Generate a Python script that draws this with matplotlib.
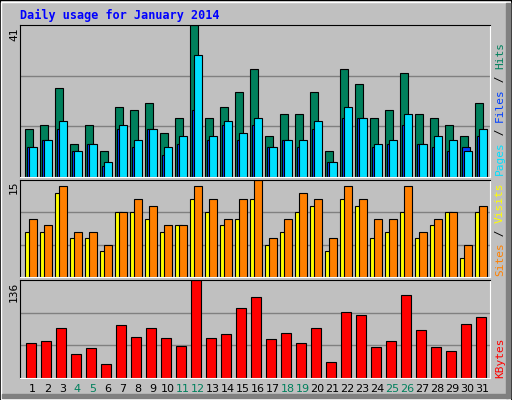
import matplotlib
matplotlib.use("Agg")
import matplotlib.pyplot as plt
from matplotlib.patches import Rectangle

days = list(range(1, 32))
hits = [13,14,24,9,14,7,19,18,20,12,16,41,16,19,23,29,11,17,17,23,7,29,25,16,18,28,17,16,14,11,20]
files = [8,10,15,7,9,4,14,10,13,8,11,33,11,15,12,16,8,10,10,15,4,19,16,9,10,17,9,11,10,7,13]
pages = [8,10,13,7,9,3,13,8,13,6,9,18,10,14,10,14,8,10,8,13,4,16,16,8,9,14,9,8,7,8,11]
visits = [9,8,14,7,7,5,10,12,11,8,8,14,12,9,12,15,6,9,13,12,6,14,12,9,9,14,7,9,10,5,11]
sites = [7,7,13,6,6,4,10,10,9,7,8,12,10,8,9,12,5,7,10,11,4,12,11,6,7,10,6,8,10,3,10]
kbytes = [49,51,70,34,42,19,73,57,70,55,45,136,55,61,97,112,54,63,49,70,22,91,88,43,52,115,67,43,37,75,84]
weekend = {4,5,11,12,18,19,25,26}

W, H = 512, 400
fig = plt.figure(figsize=(W/100, H/100), dpi=100)
fig.patch.set_facecolor('#C0C0C0')
# 3D border
fig.add_artist(Rectangle((0, 0), 1, 1, transform=fig.transFigure, fill=False, ec='black', lw=1.5))
fig.add_artist(Rectangle((1/W, 1/H), (W-3)/W, (H-3)/H, transform=fig.transFigure, fill=False, ec='white', lw=1))
fig.add_artist(Rectangle((W-6, 2), 4, H-5, transform=None, color='#808080'))
fig.add_artist(Rectangle((2, 2), W-6, 4, transform=None, color='#808080'))

mono = 'DejaVu Sans Mono'
fig.text(20/W, 1-15/H, 'Daily usage for January 2014', color='#0000FF', fontsize=8.5,
         fontweight='bold', family=mono, va='center')

def panel(y0, y1):
    ax = fig.add_axes([20/W, 1-y1/H, 470/W, (y1-y0)/H])
    ax.set_facecolor('#C0C0C0')
    ax.set_xlim(-0.33, 31.0)
    ax.set_xticks([]); ax.set_yticks([])
    for s in ['top', 'left']:
        ax.spines[s].set_color('black')
    for s in ['bottom', 'right']:
        ax.spines[s].set_color('white')
    return ax

def bars(ax, vals, off, w, color):
    ax.bar([i + off for i in range(31)], vals, width=w, align='edge',
           color=color, edgecolor='black', linewidth=0.8)

# top panel
ax1 = panel(25, 177)
ax1.set_ylim(0, 41 * 1.0)
for g in (41/3, 82/3):
    ax1.axhline(g, color='#808080', lw=1, zorder=0)
bars(ax1, hits, 0.0, 0.53, '#00805C')
bars(ax1, pages, 0.13, 0.53, '#0040FF')
bars(ax1, files, 0.27, 0.53, '#00E0FF')
fig.text(14/W, 1-34/H, '41', rotation=90, fontsize=8, family=mono, ha='center', va='center')

# middle
ax2 = panel(180, 277)
ax2.set_ylim(0, 15 * 1.0)
for g in (5, 10):
    ax2.axhline(g, color='#808080', lw=1, zorder=0)
bars(ax2, sites, 0.0, 0.5, '#FFFF00')
bars(ax2, visits, 0.27, 0.5, '#FF8000')
fig.text(14/W, 1-187/H, '15', rotation=90, fontsize=8, family=mono, ha='center', va='center')

# bottom
ax3 = panel(280, 378)
ax3.set_ylim(0, 136 * 1.0)
for g in (136/3, 272/3):
    ax3.axhline(g, color='#808080', lw=1, zorder=0)
bars(ax3, kbytes, 0.07, 0.68, '#FF0000')
fig.text(14/W, 1-292/H, '136', rotation=90, fontsize=8, family=mono, ha='center', va='center')

# day labels
for i, d in enumerate(days):
    x = (20 + (i + 0.33 + 0.5) * 15) / W
    fig.text(x, 1-389/H, str(d), ha='center', va='center', fontsize=8,
             color='#00805C' if d in weekend else 'black')

# right labels
def vlabel(parts, x, ybot):
    y = ybot
    for txt, col in parts:
        t = fig.text(x/W, 1-y/H, txt, rotation=90, color=col, fontsize=8, family=mono,
                     ha='center', va='bottom')
        y -= len(txt) * 6.6
vlabel([('Pages', '#00E0FF'), (' / ', 'black'), ('Files', '#0040FF'), (' / ', 'black'), ('Hits', '#00805C')], 500, 175)
vlabel([('Sites', '#FF8000'), (' / ', 'black'), ('Visits', '#FFFF00')], 500, 276)
vlabel([('KBytes', '#FF0000')], 500, 378)

fig.savefig('out.png', dpi=100, facecolor=fig.get_facecolor())
